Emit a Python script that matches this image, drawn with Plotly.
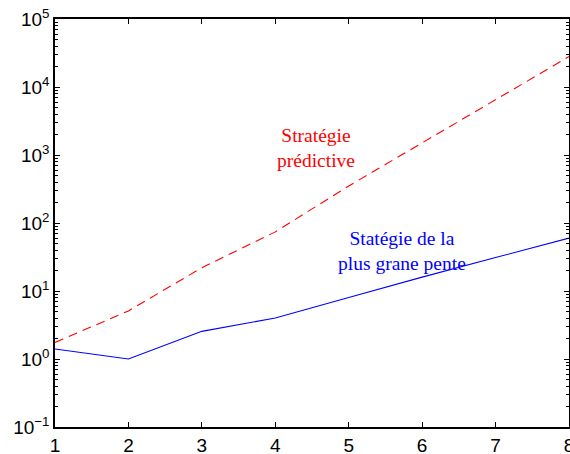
import plotly.graph_objects as go

x_vals = [1, 2, 3, 4, 5, 6, 7, 8]
steepest = [1.4, 1.0, 2.55, 4.0, 8.0, 16.0, 31.0, 60.0]
predictive = [1.75, 5.1, 22.0, 74.0, 350.0, 1500.0, 6600.0, 28000.0]
y_tick_vals = [0.1, 1, 10, 100, 1000, 10000, 100000]
y_tick_text = ["10<sup>\u22121</sup>", "10<sup>0</sup>", "10<sup>1</sup>", "10<sup>2</sup>",
               "10<sup>3</sup>", "10<sup>4</sup>", "10<sup>5</sup>"]
label_pred = "Stratégie<br>prédictive"
label_steep = "Statégie de la<br>plus grane pente"

minor_vals = [m * 10 ** e for e in range(-1, 5) for m in range(2, 10)]

fig = go.Figure()
fig.add_trace(go.Scatter(x=x_vals, y=predictive, mode="lines",
                         line=dict(color="#ff0000", width=1.1, dash="9px,6px")))
fig.add_trace(go.Scatter(x=x_vals, y=steepest, mode="lines",
                         line=dict(color="#0000ff", width=1.1)))

fig.add_annotation(x=4.56, y=3.10, text=label_pred, showarrow=False,
                   font=dict(family="Liberation Serif", size=19.5, color="#ff0000"))
fig.add_annotation(x=5.73, y=1.59, text=label_steep, showarrow=False,
                   font=dict(family="Liberation Serif", size=19.5, color="#0000ff"))

fig.update_layout(
    width=570, height=454,
    margin=dict(l=55, r=1, t=19, b=27),
    paper_bgcolor="white", plot_bgcolor="white",
    showlegend=False,
    font=dict(family="Liberation Sans, Arial", size=19, color="black"),
)
fig.update_xaxes(range=[1, 8], tickvals=x_vals, showgrid=False, zeroline=False,
                 showline=True, linecolor="black", linewidth=1.5, mirror="ticks",
                 ticks="inside", ticklen=5, tickcolor="black",
                 ticklabeloverflow="allow", automargin=False)
fig.update_yaxes(type="log", range=[-1, 5], tickvals=y_tick_vals, ticktext=y_tick_text,
                 showgrid=False, zeroline=False,
                 showline=True, linecolor="black", linewidth=1.5, mirror="ticks",
                 ticks="inside", ticklen=5, tickcolor="black", automargin=False,
                 minor=dict(tickvals=minor_vals, ticks="inside", ticklen=3,
                            tickcolor="black", showgrid=False))

fig.write_html("out.html", config={"displayModeBar": False},
               post_script="document.body.style.margin='0';document.body.style.overflow='hidden';")
